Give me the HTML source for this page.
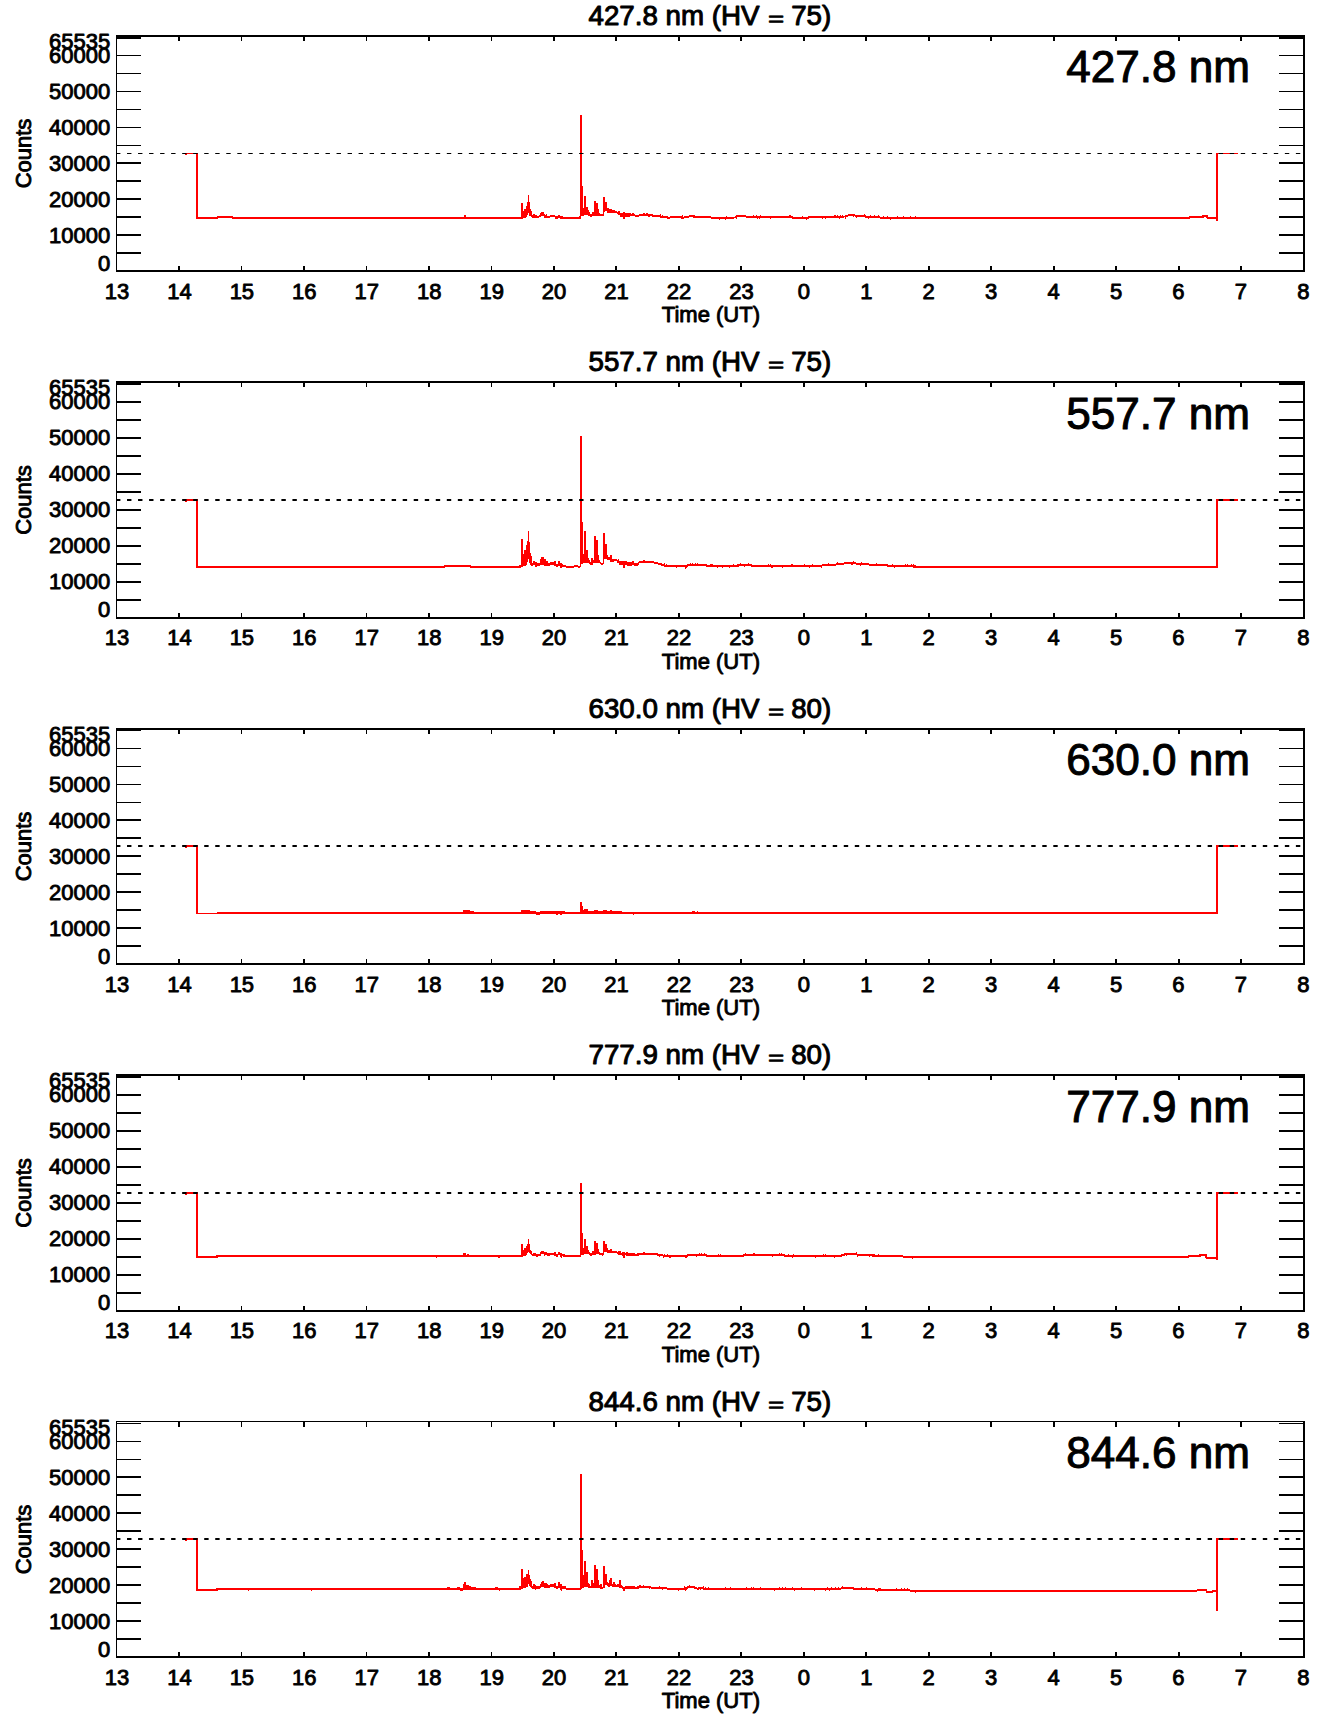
<!DOCTYPE html>
<html lang="en"><head><meta charset="utf-8"><title>Counts vs Time (UT)</title>
<style>
html,body{margin:0;padding:0;background:#fff;}
svg{display:block;}
text{font-family:"Liberation Sans",sans-serif;fill:#000;stroke:#000;stroke-linejoin:round;}
.t{font-size:22px;stroke-width:0.9px;}
.ti{font-size:27.75px;stroke-width:1px;}
.bg{font-size:44.1px;stroke-width:1px;}
.e{text-anchor:end;}.m{text-anchor:middle;}
.k{fill:#000;shape-rendering:crispEdges;}
.r{fill:#ff0000;shape-rendering:crispEdges;}
.d{stroke:#ff0000;stroke-width:2;fill:none;stroke-linejoin:miter;stroke-linecap:butt;shape-rendering:crispEdges;}
</style></head><body>
<svg width="1336" height="1731" viewBox="0 0 1336 1731">
<rect x="0" y="0" width="1336" height="1731" fill="#fff"/>
<g>
<polyline class="d" points="197,153.5 197,218 217.4,218 218,217 232,217 232.6,218 464.5,218 465,216.5 465.5,218 510,218"/>
<polyline class="d" points="648.86,214.97 659.64,216.41 668.62,217.66 677.6,216.77 682.99,217.66 691.98,215.87 695.57,216.77 708.14,216.77 711.74,217.66 720,217.66 735,217.5 736,216.5 745,216 748,217.5 790,217 795,218 808,218 810,217 845,216.5 850,215 860,216 870,217 890,218 1189,218 1190.5,216.5 1203,216.5 1203.5,215.5 1206.5,215.5 1207,217.5 1217,218 1217,221 1217,153.5"/>
<path class="r" d="M185 153h13v1h-13zM185 154h2v1h-2zM1216 153h22v1h-22zM652 215h1v2h-1zM660 214h1v2h-1zM662 215h1v2h-1zM681 217h1v2h-1zM682 215h1v2h-1zM693 216h1v2h-1zM719 218h1v2h-1zM725 218h1v2h-1zM726 216h1v2h-1zM735 216h1v2h-1zM736 217h1v2h-1zM753 215h1v2h-1zM756 215h1v2h-1zM757 217h1v2h-1zM759 217h1v2h-1zM760 215h1v2h-1zM770 217h1v2h-1zM789 215h1v2h-1zM790 215h1v2h-1zM802 216h1v2h-1zM806 218h1v2h-1zM808 216h1v2h-1zM822 217h1v2h-1zM825 217h1v2h-1zM834 215h1v2h-1zM835 215h1v2h-1zM837 215h1v2h-1zM839 217h1v2h-1zM840 215h1v2h-1zM842 215h1v2h-1zM845 217h1v2h-1zM853 215h1v2h-1zM856 216h1v2h-1zM864 214h1v2h-1zM865 215h1v2h-1zM868 217h1v2h-1zM870 215h1v2h-1zM874 215h1v2h-1zM878 215h1v2h-1zM883 216h1v2h-1zM887 216h1v2h-1zM890 218h1v2h-1zM897 216h1v2h-1zM903 216h1v2h-1zM910 216h1v2h-1zM915 216h1v2h-1zM510 217h11v2h-11zM521 203h2v16h-2zM523 211h1v7h-1zM524 209h2v9h-2zM526 206h1v11h-1zM527 202h1v13h-1zM528 195h1v18h-1zM529 202h1v14h-1zM530 209h1v7h-1zM531 211h1v6h-1zM532 215h1v3h-1zM533 214h2v4h-2zM535 215h2v3h-2zM537 216h2v2h-2zM539 215h1v2h-1zM540 213h1v4h-1zM541 212h3v4h-3zM544 214h1v4h-1zM545 215h1v3h-1zM546 214h1v4h-1zM547 216h3v2h-3zM550 215h5v2h-5zM555 216h3v3h-3zM558 215h2v3h-2zM560 216h3v3h-3zM563 217h7v2h-7zM570 217h9v2h-9zM579 216h1v3h-1zM580 214h1v5h-1zM580 115h2v100h-2zM581 186h2v30h-2zM583 208h1v8h-1zM584 196h2v19h-2zM586 207h2v8h-2zM588 210h1v6h-1zM589 212h1v4h-1zM590 214h2v3h-2zM592 212h2v4h-2zM594 201h2v15h-2zM596 203h2v13h-2zM598 209h1v7h-1zM599 213h1v3h-1zM600 214h3v2h-3zM603 197h1v19h-1zM604 197h1v15h-1zM605 202h2v9h-2zM607 208h2v5h-2zM609 209h3v4h-3zM612 210h3v3h-3zM615 211h2v2h-2zM617 212h1v2h-1zM618 211h2v4h-2zM620 213h3v4h-3zM623 212h2v7h-2zM625 213h5v4h-5zM630 213h1v3h-1zM631 214h1v2h-1zM632 213h2v3h-2zM634 214h1v2h-1zM635 215h4v2h-4zM639 214h4v2h-4zM643 213h2v3h-2zM645 214h1v2h-1zM646 213h2v3h-2zM648 214h2v3h-2z"/>
<path class="k" d="M116 35h1189v2h-1189zM116 270h1189v2h-1189zM116 35h1v237h-1zM1303 35h2v237h-2zM116 35h25v4h-25zM1279 35h26v4h-26zM116 55h25v1h-25zM1279 55h26v1h-26zM116 73h25v1h-25zM1279 73h26v1h-26zM116 91h25v1h-25zM1279 91h26v1h-26zM116 109h25v1h-25zM1279 109h26v1h-26zM116 127h25v1h-25zM1279 127h26v1h-26zM116 145h25v1h-25zM1279 145h26v1h-26zM116 162h25v2h-25zM1279 162h26v2h-26zM116 180h25v2h-25zM1279 180h26v2h-26zM116 198h25v2h-25zM1279 198h26v2h-26zM116 216h25v2h-25zM1279 216h26v2h-26zM116 234h25v2h-25zM1279 234h26v2h-26zM116 252h25v2h-25zM1279 252h26v2h-26zM178 266h2v4h-2zM178 37h2v4h-2zM241 266h1v4h-1zM241 37h1v4h-1zM303 266h2v4h-2zM303 37h2v4h-2zM366 266h1v4h-1zM366 37h1v4h-1zM428 266h2v4h-2zM428 37h2v4h-2zM491 266h1v4h-1zM491 37h1v4h-1zM553 266h2v4h-2zM553 37h2v4h-2zM615 266h2v4h-2zM615 37h2v4h-2zM678 266h2v4h-2zM678 37h2v4h-2zM740 266h2v4h-2zM740 37h2v4h-2zM803 266h2v4h-2zM803 37h2v4h-2zM865 266h2v4h-2zM865 37h2v4h-2zM928 266h2v4h-2zM928 37h2v4h-2zM990 266h2v4h-2zM990 37h2v4h-2zM1053 266h2v4h-2zM1053 37h2v4h-2zM1115 266h2v4h-2zM1115 37h2v4h-2zM1178 266h2v4h-2zM1178 37h2v4h-2zM1240 266h2v4h-2zM1240 37h2v4h-2z"/>
<path fill="#000" d="M116 153h4.4v1h-4.4zM127.03 153h4.4v1h-4.4zM138.05 153h4.4v1h-4.4zM149.08 153h4.4v1h-4.4zM160.11 153h4.4v1h-4.4zM171.13 153h4.4v1h-4.4zM182.16 153h4.4v1h-4.4zM193.19 153h4.4v1h-4.4zM204.22 153h4.4v1h-4.4zM215.24 153h4.4v1h-4.4zM226.27 153h4.4v1h-4.4zM237.3 153h4.4v1h-4.4zM248.32 153h4.4v1h-4.4zM259.35 153h4.4v1h-4.4zM270.38 153h4.4v1h-4.4zM281.4 153h4.4v1h-4.4zM292.43 153h4.4v1h-4.4zM303.46 153h4.4v1h-4.4zM314.49 153h4.4v1h-4.4zM325.51 153h4.4v1h-4.4zM336.54 153h4.4v1h-4.4zM347.57 153h4.4v1h-4.4zM358.59 153h4.4v1h-4.4zM369.62 153h4.4v1h-4.4zM380.65 153h4.4v1h-4.4zM391.67 153h4.4v1h-4.4zM402.7 153h4.4v1h-4.4zM413.73 153h4.4v1h-4.4zM424.76 153h4.4v1h-4.4zM435.78 153h4.4v1h-4.4zM446.81 153h4.4v1h-4.4zM457.84 153h4.4v1h-4.4zM468.86 153h4.4v1h-4.4zM479.89 153h4.4v1h-4.4zM490.92 153h4.4v1h-4.4zM501.94 153h4.4v1h-4.4zM512.97 153h4.4v1h-4.4zM524 153h4.4v1h-4.4zM535.03 153h4.4v1h-4.4zM546.05 153h4.4v1h-4.4zM557.08 153h4.4v1h-4.4zM568.11 153h4.4v1h-4.4zM579.13 153h4.4v1h-4.4zM590.16 153h4.4v1h-4.4zM601.19 153h4.4v1h-4.4zM612.21 153h4.4v1h-4.4zM623.24 153h4.4v1h-4.4zM634.27 153h4.4v1h-4.4zM645.3 153h4.4v1h-4.4zM656.32 153h4.4v1h-4.4zM667.35 153h4.4v1h-4.4zM678.38 153h4.4v1h-4.4zM689.4 153h4.4v1h-4.4zM700.43 153h4.4v1h-4.4zM711.46 153h4.4v1h-4.4zM722.49 153h4.4v1h-4.4zM733.51 153h4.4v1h-4.4zM744.54 153h4.4v1h-4.4zM755.57 153h4.4v1h-4.4zM766.59 153h4.4v1h-4.4zM777.62 153h4.4v1h-4.4zM788.65 153h4.4v1h-4.4zM799.67 153h4.4v1h-4.4zM810.7 153h4.4v1h-4.4zM821.73 153h4.4v1h-4.4zM832.75 153h4.4v1h-4.4zM843.78 153h4.4v1h-4.4zM854.81 153h4.4v1h-4.4zM865.84 153h4.4v1h-4.4zM876.86 153h4.4v1h-4.4zM887.89 153h4.4v1h-4.4zM898.92 153h4.4v1h-4.4zM909.94 153h4.4v1h-4.4zM920.97 153h4.4v1h-4.4zM932 153h4.4v1h-4.4zM943.02 153h4.4v1h-4.4zM954.05 153h4.4v1h-4.4zM965.08 153h4.4v1h-4.4zM976.11 153h4.4v1h-4.4zM987.13 153h4.4v1h-4.4zM998.16 153h4.4v1h-4.4zM1009.19 153h4.4v1h-4.4zM1020.21 153h4.4v1h-4.4zM1031.24 153h4.4v1h-4.4zM1042.27 153h4.4v1h-4.4zM1053.3 153h4.4v1h-4.4zM1064.32 153h4.4v1h-4.4zM1075.35 153h4.4v1h-4.4zM1086.38 153h4.4v1h-4.4zM1097.4 153h4.4v1h-4.4zM1108.43 153h4.4v1h-4.4zM1119.46 153h4.4v1h-4.4zM1130.48 153h4.4v1h-4.4zM1141.51 153h4.4v1h-4.4zM1152.54 153h4.4v1h-4.4zM1163.56 153h4.4v1h-4.4zM1174.59 153h4.4v1h-4.4zM1185.62 153h4.4v1h-4.4zM1196.65 153h4.4v1h-4.4zM1207.67 153h4.4v1h-4.4zM1218.7 153h4.4v1h-4.4zM1229.73 153h4.4v1h-4.4zM1240.75 153h4.4v1h-4.4zM1251.78 153h4.4v1h-4.4zM1262.81 153h4.4v1h-4.4zM1273.83 153h4.4v1h-4.4zM1284.86 153h4.4v1h-4.4zM1295.89 153h4.4v1h-4.4z"/>
<g transform="translate(0,0)">
<g transform="translate(0,24.6) scale(1,0.965)">
<text class="ti e" x="759.6" y="0">427.8 nm (HV</text>
<text class="ti m" transform="translate(776,0) scale(1,0.74)" y="1.3">=</text>
<text class="ti" x="791.2" y="0">75)</text>
</g>
<text class="bg" transform="translate(1066.2,82.2)">427.8 nm</text>
<text class="t e" x="110.3" y="270.8">0</text>
<text class="t e" x="110.3" y="242.7">10000</text>
<text class="t e" x="110.3" y="206.7">20000</text>
<text class="t e" x="110.3" y="170.7">30000</text>
<text class="t e" x="110.3" y="134.7">40000</text>
<text class="t e" x="110.3" y="98.7">50000</text>
<text class="t e" x="110.3" y="62.7">60000</text>
<text class="t e" x="110.3" y="48.8">65535</text>
<text class="t m" x="117" y="298.5">13</text>
<text class="t m" x="179.44" y="298.5">14</text>
<text class="t m" x="241.88" y="298.5">15</text>
<text class="t m" x="304.32" y="298.5">16</text>
<text class="t m" x="366.76" y="298.5">17</text>
<text class="t m" x="429.2" y="298.5">18</text>
<text class="t m" x="491.64" y="298.5">19</text>
<text class="t m" x="554.08" y="298.5">20</text>
<text class="t m" x="616.52" y="298.5">21</text>
<text class="t m" x="678.96" y="298.5">22</text>
<text class="t m" x="741.4" y="298.5">23</text>
<text class="t m" x="803.84" y="298.5">0</text>
<text class="t m" x="866.28" y="298.5">1</text>
<text class="t m" x="928.72" y="298.5">2</text>
<text class="t m" x="991.16" y="298.5">3</text>
<text class="t m" x="1053.6" y="298.5">4</text>
<text class="t m" x="1116.04" y="298.5">5</text>
<text class="t m" x="1178.48" y="298.5">6</text>
<text class="t m" x="1240.92" y="298.5">7</text>
<text class="t m" x="1303.36" y="298.5">8</text>
<text class="t m" x="710.9" y="322.4">Time (UT)</text>
<text class="t m" transform="translate(31,153.5) rotate(-90)">Counts</text>
</g>
</g>
<g>
<polyline class="d" points="197,500 197,567 444,567 445,566 470,566 471,567 510,567"/>
<polyline class="d" points="649,562 652,562 660,564 666,566 685,566 686,567.5 688,565 706,565 707,566 738,566 739,564.5 750,564.5 751,565.5 822,565.5 830,565 843,564 846,562.5 853,562.5 856,563.5 867,563.5 870,565 887,565 888,566 913,566 914,567 1217,567 1217,500"/>
<path class="r" d="M185 499h13v2h-13zM185 501h2v1h-2zM1216 499h22v2h-22zM664 563h1v2h-1zM666 564h1v2h-1zM676 566h1v2h-1zM686 566h1v2h-1zM690 563h1v2h-1zM692 563h1v2h-1zM695 563h1v2h-1zM697 563h1v2h-1zM710 564h1v2h-1zM711 564h1v2h-1zM712 564h1v2h-1zM717 566h1v2h-1zM722 566h1v2h-1zM729 566h1v2h-1zM733 564h1v2h-1zM737 564h1v2h-1zM740 563h1v2h-1zM744 565h1v2h-1zM748 563h1v2h-1zM751 564h1v2h-1zM768 564h1v2h-1zM770 564h1v2h-1zM771 566h1v2h-1zM772 566h1v2h-1zM782 566h1v2h-1zM791 564h1v2h-1zM792 564h1v2h-1zM804 564h1v2h-1zM809 566h1v2h-1zM812 564h1v2h-1zM821 566h1v2h-1zM828 563h1v2h-1zM837 562h1v2h-1zM851 563h1v2h-1zM852 563h1v2h-1zM853 561h1v2h-1zM860 564h1v2h-1zM861 562h1v2h-1zM876 563h1v2h-1zM892 564h1v2h-1zM894 566h1v2h-1zM905 564h1v2h-1zM907 564h1v2h-1zM911 564h1v2h-1zM913 564h1v2h-1zM914 565h1v2h-1zM915 565h1v2h-1zM510 566h9v2h-9zM519 565h2v3h-2zM521 539h2v28h-2zM523 554h1v12h-1zM524 550h2v16h-2zM526 545h1v20h-1zM527 541h1v21h-1zM528 531h1v28h-1zM529 542h1v21h-1zM530 553h1v12h-1zM531 556h1v10h-1zM532 563h1v3h-1zM533 561h2v4h-2zM535 562h2v5h-2zM537 563h3v3h-3zM540 559h1v6h-1zM541 557h3v8h-3zM544 559h2v7h-2zM546 561h2v5h-2zM548 563h2v3h-2zM550 562h4v3h-4zM554 561h2v5h-2zM556 564h2v3h-2zM558 561h2v5h-2zM560 563h2v5h-2zM562 564h1v3h-1zM563 565h3v2h-3zM566 566h4v2h-4zM570 566h4v2h-4zM574 565h4v2h-4zM578 566h2v2h-2zM580 563h1v4h-1zM580 436h2v128h-2zM581 522h2v42h-2zM583 554h1v9h-1zM584 531h2v32h-2zM586 550h2v13h-2zM588 558h1v5h-1zM589 560h1v4h-1zM590 562h1v3h-1zM591 558h2v7h-2zM593 560h1v3h-1zM594 536h2v27h-2zM596 540h2v23h-2zM598 555h1v8h-1zM599 560h1v3h-1zM600 562h1v2h-1zM601 563h2v2h-2zM603 533h1v31h-1zM604 533h1v26h-1zM605 544h2v15h-2zM607 555h1v5h-1zM608 557h2v3h-2zM610 555h2v7h-2zM612 559h2v3h-2zM614 559h3v2h-3zM617 560h1v3h-1zM618 559h1v4h-1zM619 561h2v4h-2zM621 561h2v4h-2zM623 561h2v7h-2zM625 561h2v4h-2zM627 562h3v4h-3zM630 562h2v4h-2zM632 561h2v4h-2zM634 563h2v3h-2zM636 563h2v3h-2zM638 562h1v3h-1zM639 561h4v2h-4zM643 560h2v3h-2zM645 561h5v2h-5z"/>
<path class="k" d="M116 381h1189v2h-1189zM116 617h1189v2h-1189zM116 381h1v238h-1zM1303 381h2v238h-2zM116 381h25v4h-25zM1279 381h26v4h-26zM116 401h25v2h-25zM1279 401h26v2h-26zM116 419h25v2h-25zM1279 419h26v2h-26zM116 437h25v2h-25zM1279 437h26v2h-26zM116 455h25v2h-25zM1279 455h26v2h-26zM116 473h25v2h-25zM1279 473h26v2h-26zM116 491h25v2h-25zM1279 491h26v2h-26zM116 509h25v2h-25zM1279 509h26v2h-26zM116 527h25v2h-25zM1279 527h26v2h-26zM116 545h25v2h-25zM1279 545h26v2h-26zM116 563h25v2h-25zM1279 563h26v2h-26zM116 581h25v2h-25zM1279 581h26v2h-26zM116 599h25v2h-25zM1279 599h26v2h-26zM178 613h2v4h-2zM178 383h2v4h-2zM241 613h1v4h-1zM241 383h1v4h-1zM303 613h2v4h-2zM303 383h2v4h-2zM366 613h1v4h-1zM366 383h1v4h-1zM428 613h2v4h-2zM428 383h2v4h-2zM491 613h1v4h-1zM491 383h1v4h-1zM553 613h2v4h-2zM553 383h2v4h-2zM615 613h2v4h-2zM615 383h2v4h-2zM678 613h2v4h-2zM678 383h2v4h-2zM740 613h2v4h-2zM740 383h2v4h-2zM803 613h2v4h-2zM803 383h2v4h-2zM865 613h2v4h-2zM865 383h2v4h-2zM928 613h2v4h-2zM928 383h2v4h-2zM990 613h2v4h-2zM990 383h2v4h-2zM1053 613h2v4h-2zM1053 383h2v4h-2zM1115 613h2v4h-2zM1115 383h2v4h-2zM1178 613h2v4h-2zM1178 383h2v4h-2zM1240 613h2v4h-2zM1240 383h2v4h-2z"/>
<path fill="#000" d="M116 499h4.4v2h-4.4zM127.03 499h4.4v2h-4.4zM138.05 499h4.4v2h-4.4zM149.08 499h4.4v2h-4.4zM160.11 499h4.4v2h-4.4zM171.13 499h4.4v2h-4.4zM182.16 499h4.4v2h-4.4zM193.19 499h4.4v2h-4.4zM204.22 499h4.4v2h-4.4zM215.24 499h4.4v2h-4.4zM226.27 499h4.4v2h-4.4zM237.3 499h4.4v2h-4.4zM248.32 499h4.4v2h-4.4zM259.35 499h4.4v2h-4.4zM270.38 499h4.4v2h-4.4zM281.4 499h4.4v2h-4.4zM292.43 499h4.4v2h-4.4zM303.46 499h4.4v2h-4.4zM314.49 499h4.4v2h-4.4zM325.51 499h4.4v2h-4.4zM336.54 499h4.4v2h-4.4zM347.57 499h4.4v2h-4.4zM358.59 499h4.4v2h-4.4zM369.62 499h4.4v2h-4.4zM380.65 499h4.4v2h-4.4zM391.67 499h4.4v2h-4.4zM402.7 499h4.4v2h-4.4zM413.73 499h4.4v2h-4.4zM424.76 499h4.4v2h-4.4zM435.78 499h4.4v2h-4.4zM446.81 499h4.4v2h-4.4zM457.84 499h4.4v2h-4.4zM468.86 499h4.4v2h-4.4zM479.89 499h4.4v2h-4.4zM490.92 499h4.4v2h-4.4zM501.94 499h4.4v2h-4.4zM512.97 499h4.4v2h-4.4zM524 499h4.4v2h-4.4zM535.03 499h4.4v2h-4.4zM546.05 499h4.4v2h-4.4zM557.08 499h4.4v2h-4.4zM568.11 499h4.4v2h-4.4zM579.13 499h4.4v2h-4.4zM590.16 499h4.4v2h-4.4zM601.19 499h4.4v2h-4.4zM612.21 499h4.4v2h-4.4zM623.24 499h4.4v2h-4.4zM634.27 499h4.4v2h-4.4zM645.3 499h4.4v2h-4.4zM656.32 499h4.4v2h-4.4zM667.35 499h4.4v2h-4.4zM678.38 499h4.4v2h-4.4zM689.4 499h4.4v2h-4.4zM700.43 499h4.4v2h-4.4zM711.46 499h4.4v2h-4.4zM722.49 499h4.4v2h-4.4zM733.51 499h4.4v2h-4.4zM744.54 499h4.4v2h-4.4zM755.57 499h4.4v2h-4.4zM766.59 499h4.4v2h-4.4zM777.62 499h4.4v2h-4.4zM788.65 499h4.4v2h-4.4zM799.67 499h4.4v2h-4.4zM810.7 499h4.4v2h-4.4zM821.73 499h4.4v2h-4.4zM832.75 499h4.4v2h-4.4zM843.78 499h4.4v2h-4.4zM854.81 499h4.4v2h-4.4zM865.84 499h4.4v2h-4.4zM876.86 499h4.4v2h-4.4zM887.89 499h4.4v2h-4.4zM898.92 499h4.4v2h-4.4zM909.94 499h4.4v2h-4.4zM920.97 499h4.4v2h-4.4zM932 499h4.4v2h-4.4zM943.02 499h4.4v2h-4.4zM954.05 499h4.4v2h-4.4zM965.08 499h4.4v2h-4.4zM976.11 499h4.4v2h-4.4zM987.13 499h4.4v2h-4.4zM998.16 499h4.4v2h-4.4zM1009.19 499h4.4v2h-4.4zM1020.21 499h4.4v2h-4.4zM1031.24 499h4.4v2h-4.4zM1042.27 499h4.4v2h-4.4zM1053.3 499h4.4v2h-4.4zM1064.32 499h4.4v2h-4.4zM1075.35 499h4.4v2h-4.4zM1086.38 499h4.4v2h-4.4zM1097.4 499h4.4v2h-4.4zM1108.43 499h4.4v2h-4.4zM1119.46 499h4.4v2h-4.4zM1130.48 499h4.4v2h-4.4zM1141.51 499h4.4v2h-4.4zM1152.54 499h4.4v2h-4.4zM1163.56 499h4.4v2h-4.4zM1174.59 499h4.4v2h-4.4zM1185.62 499h4.4v2h-4.4zM1196.65 499h4.4v2h-4.4zM1207.67 499h4.4v2h-4.4zM1218.7 499h4.4v2h-4.4zM1229.73 499h4.4v2h-4.4zM1240.75 499h4.4v2h-4.4zM1251.78 499h4.4v2h-4.4zM1262.81 499h4.4v2h-4.4zM1273.83 499h4.4v2h-4.4zM1284.86 499h4.4v2h-4.4zM1295.89 499h4.4v2h-4.4z"/>
<g transform="translate(0,346.5)">
<g transform="translate(0,24.6) scale(1,0.965)">
<text class="ti e" x="759.6" y="0">557.7 nm (HV</text>
<text class="ti m" transform="translate(776,0) scale(1,0.74)" y="1.3">=</text>
<text class="ti" x="791.2" y="0">75)</text>
</g>
<text class="bg" transform="translate(1066.2,82.2)">557.7 nm</text>
<text class="t e" x="110.3" y="270.8">0</text>
<text class="t e" x="110.3" y="242.7">10000</text>
<text class="t e" x="110.3" y="206.7">20000</text>
<text class="t e" x="110.3" y="170.7">30000</text>
<text class="t e" x="110.3" y="134.7">40000</text>
<text class="t e" x="110.3" y="98.7">50000</text>
<text class="t e" x="110.3" y="62.7">60000</text>
<text class="t e" x="110.3" y="48.8">65535</text>
<text class="t m" x="117" y="298.5">13</text>
<text class="t m" x="179.44" y="298.5">14</text>
<text class="t m" x="241.88" y="298.5">15</text>
<text class="t m" x="304.32" y="298.5">16</text>
<text class="t m" x="366.76" y="298.5">17</text>
<text class="t m" x="429.2" y="298.5">18</text>
<text class="t m" x="491.64" y="298.5">19</text>
<text class="t m" x="554.08" y="298.5">20</text>
<text class="t m" x="616.52" y="298.5">21</text>
<text class="t m" x="678.96" y="298.5">22</text>
<text class="t m" x="741.4" y="298.5">23</text>
<text class="t m" x="803.84" y="298.5">0</text>
<text class="t m" x="866.28" y="298.5">1</text>
<text class="t m" x="928.72" y="298.5">2</text>
<text class="t m" x="991.16" y="298.5">3</text>
<text class="t m" x="1053.6" y="298.5">4</text>
<text class="t m" x="1116.04" y="298.5">5</text>
<text class="t m" x="1178.48" y="298.5">6</text>
<text class="t m" x="1240.92" y="298.5">7</text>
<text class="t m" x="1303.36" y="298.5">8</text>
<text class="t m" x="710.9" y="322.4">Time (UT)</text>
<text class="t m" transform="translate(31,153.5) rotate(-90)">Counts</text>
</g>
</g>
<g>
<polyline class="d" points="217,913 1217,913 1217,846"/>
<path class="r" d="M185 845h13v2h-13zM185 847h2v1h-2zM1216 845h22v2h-22zM196 845h2v69h-2zM197 913h20v1h-20zM463 910h7v2h-7zM470 911h4v1h-4zM521 910h9v2h-9zM530 911h6v1h-6zM536 914h4v1h-4zM540 911h25v1h-25zM556 914h2v1h-2zM560 914h2v1h-2zM580 902h2v10h-2zM582 906h1v6h-1zM583 910h1v2h-1zM584 909h4v3h-4zM588 911h6v1h-6zM594 910h4v2h-4zM598 911h5v1h-5zM603 910h4v2h-4zM607 911h3v1h-3zM610 910h2v2h-2zM612 911h10v1h-10zM692 911h3v1h-3zM697 911h1v1h-1zM633 914h1v1h-1z"/>
<path class="k" d="M116 728h1189v2h-1189zM116 963h1189v2h-1189zM116 728h1v237h-1zM1303 728h2v237h-2zM116 728h25v3h-25zM1279 728h26v3h-26zM116 748h25v1h-25zM1279 748h26v1h-26zM116 766h25v1h-25zM1279 766h26v1h-26zM116 784h25v1h-25zM1279 784h26v1h-26zM116 802h25v1h-25zM1279 802h26v1h-26zM116 819h25v2h-25zM1279 819h26v2h-26zM116 837h25v2h-25zM1279 837h26v2h-26zM116 855h25v2h-25zM1279 855h26v2h-26zM116 873h25v2h-25zM1279 873h26v2h-26zM116 891h25v2h-25zM1279 891h26v2h-26zM116 909h25v2h-25zM1279 909h26v2h-26zM116 927h25v2h-25zM1279 927h26v2h-26zM116 945h25v2h-25zM1279 945h26v2h-26zM178 959h2v4h-2zM178 730h2v4h-2zM241 959h1v4h-1zM241 730h1v4h-1zM303 959h2v4h-2zM303 730h2v4h-2zM366 959h1v4h-1zM366 730h1v4h-1zM428 959h2v4h-2zM428 730h2v4h-2zM491 959h1v4h-1zM491 730h1v4h-1zM553 959h2v4h-2zM553 730h2v4h-2zM615 959h2v4h-2zM615 730h2v4h-2zM678 959h2v4h-2zM678 730h2v4h-2zM740 959h2v4h-2zM740 730h2v4h-2zM803 959h2v4h-2zM803 730h2v4h-2zM865 959h2v4h-2zM865 730h2v4h-2zM928 959h2v4h-2zM928 730h2v4h-2zM990 959h2v4h-2zM990 730h2v4h-2zM1053 959h2v4h-2zM1053 730h2v4h-2zM1115 959h2v4h-2zM1115 730h2v4h-2zM1178 959h2v4h-2zM1178 730h2v4h-2zM1240 959h2v4h-2zM1240 730h2v4h-2z"/>
<path fill="#000" d="M116 845h4.4v2h-4.4zM127.03 845h4.4v2h-4.4zM138.05 845h4.4v2h-4.4zM149.08 845h4.4v2h-4.4zM160.11 845h4.4v2h-4.4zM171.13 845h4.4v2h-4.4zM182.16 845h4.4v2h-4.4zM193.19 845h4.4v2h-4.4zM204.22 845h4.4v2h-4.4zM215.24 845h4.4v2h-4.4zM226.27 845h4.4v2h-4.4zM237.3 845h4.4v2h-4.4zM248.32 845h4.4v2h-4.4zM259.35 845h4.4v2h-4.4zM270.38 845h4.4v2h-4.4zM281.4 845h4.4v2h-4.4zM292.43 845h4.4v2h-4.4zM303.46 845h4.4v2h-4.4zM314.49 845h4.4v2h-4.4zM325.51 845h4.4v2h-4.4zM336.54 845h4.4v2h-4.4zM347.57 845h4.4v2h-4.4zM358.59 845h4.4v2h-4.4zM369.62 845h4.4v2h-4.4zM380.65 845h4.4v2h-4.4zM391.67 845h4.4v2h-4.4zM402.7 845h4.4v2h-4.4zM413.73 845h4.4v2h-4.4zM424.76 845h4.4v2h-4.4zM435.78 845h4.4v2h-4.4zM446.81 845h4.4v2h-4.4zM457.84 845h4.4v2h-4.4zM468.86 845h4.4v2h-4.4zM479.89 845h4.4v2h-4.4zM490.92 845h4.4v2h-4.4zM501.94 845h4.4v2h-4.4zM512.97 845h4.4v2h-4.4zM524 845h4.4v2h-4.4zM535.03 845h4.4v2h-4.4zM546.05 845h4.4v2h-4.4zM557.08 845h4.4v2h-4.4zM568.11 845h4.4v2h-4.4zM579.13 845h4.4v2h-4.4zM590.16 845h4.4v2h-4.4zM601.19 845h4.4v2h-4.4zM612.21 845h4.4v2h-4.4zM623.24 845h4.4v2h-4.4zM634.27 845h4.4v2h-4.4zM645.3 845h4.4v2h-4.4zM656.32 845h4.4v2h-4.4zM667.35 845h4.4v2h-4.4zM678.38 845h4.4v2h-4.4zM689.4 845h4.4v2h-4.4zM700.43 845h4.4v2h-4.4zM711.46 845h4.4v2h-4.4zM722.49 845h4.4v2h-4.4zM733.51 845h4.4v2h-4.4zM744.54 845h4.4v2h-4.4zM755.57 845h4.4v2h-4.4zM766.59 845h4.4v2h-4.4zM777.62 845h4.4v2h-4.4zM788.65 845h4.4v2h-4.4zM799.67 845h4.4v2h-4.4zM810.7 845h4.4v2h-4.4zM821.73 845h4.4v2h-4.4zM832.75 845h4.4v2h-4.4zM843.78 845h4.4v2h-4.4zM854.81 845h4.4v2h-4.4zM865.84 845h4.4v2h-4.4zM876.86 845h4.4v2h-4.4zM887.89 845h4.4v2h-4.4zM898.92 845h4.4v2h-4.4zM909.94 845h4.4v2h-4.4zM920.97 845h4.4v2h-4.4zM932 845h4.4v2h-4.4zM943.02 845h4.4v2h-4.4zM954.05 845h4.4v2h-4.4zM965.08 845h4.4v2h-4.4zM976.11 845h4.4v2h-4.4zM987.13 845h4.4v2h-4.4zM998.16 845h4.4v2h-4.4zM1009.19 845h4.4v2h-4.4zM1020.21 845h4.4v2h-4.4zM1031.24 845h4.4v2h-4.4zM1042.27 845h4.4v2h-4.4zM1053.3 845h4.4v2h-4.4zM1064.32 845h4.4v2h-4.4zM1075.35 845h4.4v2h-4.4zM1086.38 845h4.4v2h-4.4zM1097.4 845h4.4v2h-4.4zM1108.43 845h4.4v2h-4.4zM1119.46 845h4.4v2h-4.4zM1130.48 845h4.4v2h-4.4zM1141.51 845h4.4v2h-4.4zM1152.54 845h4.4v2h-4.4zM1163.56 845h4.4v2h-4.4zM1174.59 845h4.4v2h-4.4zM1185.62 845h4.4v2h-4.4zM1196.65 845h4.4v2h-4.4zM1207.67 845h4.4v2h-4.4zM1218.7 845h4.4v2h-4.4zM1229.73 845h4.4v2h-4.4zM1240.75 845h4.4v2h-4.4zM1251.78 845h4.4v2h-4.4zM1262.81 845h4.4v2h-4.4zM1273.83 845h4.4v2h-4.4zM1284.86 845h4.4v2h-4.4zM1295.89 845h4.4v2h-4.4z"/>
<g transform="translate(0,693)">
<g transform="translate(0,24.6) scale(1,0.965)">
<text class="ti e" x="759.6" y="0">630.0 nm (HV</text>
<text class="ti m" transform="translate(776,0) scale(1,0.74)" y="1.3">=</text>
<text class="ti" x="791.2" y="0">80)</text>
</g>
<text class="bg" transform="translate(1066.2,82.2)">630.0 nm</text>
<text class="t e" x="110.3" y="270.8">0</text>
<text class="t e" x="110.3" y="242.7">10000</text>
<text class="t e" x="110.3" y="206.7">20000</text>
<text class="t e" x="110.3" y="170.7">30000</text>
<text class="t e" x="110.3" y="134.7">40000</text>
<text class="t e" x="110.3" y="98.7">50000</text>
<text class="t e" x="110.3" y="62.7">60000</text>
<text class="t e" x="110.3" y="48.8">65535</text>
<text class="t m" x="117" y="298.5">13</text>
<text class="t m" x="179.44" y="298.5">14</text>
<text class="t m" x="241.88" y="298.5">15</text>
<text class="t m" x="304.32" y="298.5">16</text>
<text class="t m" x="366.76" y="298.5">17</text>
<text class="t m" x="429.2" y="298.5">18</text>
<text class="t m" x="491.64" y="298.5">19</text>
<text class="t m" x="554.08" y="298.5">20</text>
<text class="t m" x="616.52" y="298.5">21</text>
<text class="t m" x="678.96" y="298.5">22</text>
<text class="t m" x="741.4" y="298.5">23</text>
<text class="t m" x="803.84" y="298.5">0</text>
<text class="t m" x="866.28" y="298.5">1</text>
<text class="t m" x="928.72" y="298.5">2</text>
<text class="t m" x="991.16" y="298.5">3</text>
<text class="t m" x="1053.6" y="298.5">4</text>
<text class="t m" x="1116.04" y="298.5">5</text>
<text class="t m" x="1178.48" y="298.5">6</text>
<text class="t m" x="1240.92" y="298.5">7</text>
<text class="t m" x="1303.36" y="298.5">8</text>
<text class="t m" x="710.9" y="322.4">Time (UT)</text>
<text class="t m" transform="translate(31,153.5) rotate(-90)">Counts</text>
</g>
</g>
<g>
<polyline class="d" points="197,1193 197,1257 217.4,1257 217.4,1256 510,1256"/>
<polyline class="d" points="649,1254 654,1254 660,1255 666,1256 685,1256 686,1257 688,1255 706,1255 707,1256 743,1256 744,1255 784,1255 785,1256 841,1256 842,1255 848,1254 856,1254 858,1255 872,1255 873,1256 902,1256 903,1256.5 913,1257 1188,1257 1189,1256 1200,1256 1200,1255 1206,1255 1206.5,1258 1217,1258 1217,1260 1217,1193"/>
<path class="r" d="M185 1192h13v2h-13zM185 1194h2v1h-2zM1216 1192h22v2h-22zM657 1253h1v2h-1zM659 1255h1v2h-1zM663 1256h1v2h-1zM664 1254h1v2h-1zM667 1254h1v2h-1zM669 1256h1v2h-1zM670 1256h1v2h-1zM696 1255h1v2h-1zM699 1253h1v2h-1zM701 1253h1v2h-1zM704 1253h1v2h-1zM718 1254h1v2h-1zM720 1254h1v2h-1zM745 1253h1v2h-1zM753 1253h1v2h-1zM754 1253h1v2h-1zM772 1255h1v2h-1zM779 1253h1v2h-1zM781 1253h1v2h-1zM788 1254h1v2h-1zM792 1256h1v2h-1zM793 1254h1v2h-1zM815 1256h1v2h-1zM823 1254h1v2h-1zM825 1254h1v2h-1zM834 1256h1v2h-1zM844 1253h1v2h-1zM846 1254h1v2h-1zM856 1252h1v2h-1zM857 1255h1v2h-1zM869 1255h1v2h-1zM873 1254h1v2h-1zM874 1254h1v2h-1zM878 1254h1v2h-1zM912 1257h1v2h-1zM510 1255h11v2h-11zM521 1244h2v13h-2zM523 1250h1v6h-1zM524 1248h2v8h-2zM526 1246h1v9h-1zM527 1244h1v9h-1zM528 1239h1v13h-1zM529 1244h1v9h-1zM530 1250h1v4h-1zM531 1251h1v4h-1zM532 1254h1v2h-1zM533 1253h3v3h-3zM536 1254h2v3h-2zM538 1254h2v2h-2zM540 1252h1v4h-1zM541 1251h3v3h-3zM544 1252h1v4h-1zM545 1252h2v3h-2zM547 1253h3v3h-3zM550 1253h4v2h-4zM554 1252h2v4h-2zM556 1254h2v3h-2zM558 1252h2v3h-2zM560 1253h1v4h-1zM561 1253h1v5h-1zM562 1254h1v2h-1zM563 1254h2v3h-2zM565 1255h5v2h-5zM570 1255h10v2h-10zM580 1254h1v3h-1zM580 1183h2v72h-2zM581 1233h2v22h-2zM583 1248h1v7h-1zM584 1239h2v15h-2zM586 1246h2v8h-2zM588 1250h1v4h-1zM589 1252h1v3h-1zM590 1253h2v3h-2zM592 1251h2v4h-2zM594 1241h2v14h-2zM596 1243h2v11h-2zM598 1249h1v5h-1zM599 1252h1v3h-1zM600 1253h2v2h-2zM602 1253h1v3h-1zM603 1241h1v14h-1zM604 1241h1v11h-1zM605 1244h2v8h-2zM607 1248h1v5h-1zM608 1250h2v3h-2zM610 1249h2v4h-2zM612 1251h5v2h-5zM617 1252h1v2h-1zM618 1251h3v4h-3zM621 1253h1v2h-1zM622 1252h1v4h-1zM623 1252h2v6h-2zM625 1253h1v2h-1zM626 1252h2v4h-2zM628 1253h7v3h-7zM635 1254h2v2h-2zM637 1253h2v3h-2zM639 1253h4v2h-4zM643 1252h2v3h-2zM645 1253h5v2h-5zM463 1253h3v2h-3zM467 1254h2v1h-2zM436 1257h1v1h-1zM498 1257h2v1h-2z"/>
<path class="k" d="M116 1074h1189v2h-1189zM116 1310h1189v2h-1189zM116 1074h1v238h-1zM1303 1074h2v238h-2zM116 1074h25v4h-25zM1279 1074h26v4h-26zM116 1094h25v2h-25zM1279 1094h26v2h-26zM116 1112h25v2h-25zM1279 1112h26v2h-26zM116 1130h25v2h-25zM1279 1130h26v2h-26zM116 1148h25v2h-25zM1279 1148h26v2h-26zM116 1166h25v2h-25zM1279 1166h26v2h-26zM116 1184h25v2h-25zM1279 1184h26v2h-26zM116 1202h25v2h-25zM1279 1202h26v2h-26zM116 1220h25v2h-25zM1279 1220h26v2h-26zM116 1238h25v2h-25zM1279 1238h26v2h-26zM116 1256h25v2h-25zM1279 1256h26v2h-26zM116 1274h25v2h-25zM1279 1274h26v2h-26zM116 1292h25v2h-25zM1279 1292h26v2h-26zM178 1306h2v4h-2zM178 1076h2v4h-2zM241 1306h1v4h-1zM241 1076h1v4h-1zM303 1306h2v4h-2zM303 1076h2v4h-2zM366 1306h1v4h-1zM366 1076h1v4h-1zM428 1306h2v4h-2zM428 1076h2v4h-2zM491 1306h1v4h-1zM491 1076h1v4h-1zM553 1306h2v4h-2zM553 1076h2v4h-2zM615 1306h2v4h-2zM615 1076h2v4h-2zM678 1306h2v4h-2zM678 1076h2v4h-2zM740 1306h2v4h-2zM740 1076h2v4h-2zM803 1306h2v4h-2zM803 1076h2v4h-2zM865 1306h2v4h-2zM865 1076h2v4h-2zM928 1306h2v4h-2zM928 1076h2v4h-2zM990 1306h2v4h-2zM990 1076h2v4h-2zM1053 1306h2v4h-2zM1053 1076h2v4h-2zM1115 1306h2v4h-2zM1115 1076h2v4h-2zM1178 1306h2v4h-2zM1178 1076h2v4h-2zM1240 1306h2v4h-2zM1240 1076h2v4h-2z"/>
<path fill="#000" d="M116 1192h4.4v2h-4.4zM127.03 1192h4.4v2h-4.4zM138.05 1192h4.4v2h-4.4zM149.08 1192h4.4v2h-4.4zM160.11 1192h4.4v2h-4.4zM171.13 1192h4.4v2h-4.4zM182.16 1192h4.4v2h-4.4zM193.19 1192h4.4v2h-4.4zM204.22 1192h4.4v2h-4.4zM215.24 1192h4.4v2h-4.4zM226.27 1192h4.4v2h-4.4zM237.3 1192h4.4v2h-4.4zM248.32 1192h4.4v2h-4.4zM259.35 1192h4.4v2h-4.4zM270.38 1192h4.4v2h-4.4zM281.4 1192h4.4v2h-4.4zM292.43 1192h4.4v2h-4.4zM303.46 1192h4.4v2h-4.4zM314.49 1192h4.4v2h-4.4zM325.51 1192h4.4v2h-4.4zM336.54 1192h4.4v2h-4.4zM347.57 1192h4.4v2h-4.4zM358.59 1192h4.4v2h-4.4zM369.62 1192h4.4v2h-4.4zM380.65 1192h4.4v2h-4.4zM391.67 1192h4.4v2h-4.4zM402.7 1192h4.4v2h-4.4zM413.73 1192h4.4v2h-4.4zM424.76 1192h4.4v2h-4.4zM435.78 1192h4.4v2h-4.4zM446.81 1192h4.4v2h-4.4zM457.84 1192h4.4v2h-4.4zM468.86 1192h4.4v2h-4.4zM479.89 1192h4.4v2h-4.4zM490.92 1192h4.4v2h-4.4zM501.94 1192h4.4v2h-4.4zM512.97 1192h4.4v2h-4.4zM524 1192h4.4v2h-4.4zM535.03 1192h4.4v2h-4.4zM546.05 1192h4.4v2h-4.4zM557.08 1192h4.4v2h-4.4zM568.11 1192h4.4v2h-4.4zM579.13 1192h4.4v2h-4.4zM590.16 1192h4.4v2h-4.4zM601.19 1192h4.4v2h-4.4zM612.21 1192h4.4v2h-4.4zM623.24 1192h4.4v2h-4.4zM634.27 1192h4.4v2h-4.4zM645.3 1192h4.4v2h-4.4zM656.32 1192h4.4v2h-4.4zM667.35 1192h4.4v2h-4.4zM678.38 1192h4.4v2h-4.4zM689.4 1192h4.4v2h-4.4zM700.43 1192h4.4v2h-4.4zM711.46 1192h4.4v2h-4.4zM722.49 1192h4.4v2h-4.4zM733.51 1192h4.4v2h-4.4zM744.54 1192h4.4v2h-4.4zM755.57 1192h4.4v2h-4.4zM766.59 1192h4.4v2h-4.4zM777.62 1192h4.4v2h-4.4zM788.65 1192h4.4v2h-4.4zM799.67 1192h4.4v2h-4.4zM810.7 1192h4.4v2h-4.4zM821.73 1192h4.4v2h-4.4zM832.75 1192h4.4v2h-4.4zM843.78 1192h4.4v2h-4.4zM854.81 1192h4.4v2h-4.4zM865.84 1192h4.4v2h-4.4zM876.86 1192h4.4v2h-4.4zM887.89 1192h4.4v2h-4.4zM898.92 1192h4.4v2h-4.4zM909.94 1192h4.4v2h-4.4zM920.97 1192h4.4v2h-4.4zM932 1192h4.4v2h-4.4zM943.02 1192h4.4v2h-4.4zM954.05 1192h4.4v2h-4.4zM965.08 1192h4.4v2h-4.4zM976.11 1192h4.4v2h-4.4zM987.13 1192h4.4v2h-4.4zM998.16 1192h4.4v2h-4.4zM1009.19 1192h4.4v2h-4.4zM1020.21 1192h4.4v2h-4.4zM1031.24 1192h4.4v2h-4.4zM1042.27 1192h4.4v2h-4.4zM1053.3 1192h4.4v2h-4.4zM1064.32 1192h4.4v2h-4.4zM1075.35 1192h4.4v2h-4.4zM1086.38 1192h4.4v2h-4.4zM1097.4 1192h4.4v2h-4.4zM1108.43 1192h4.4v2h-4.4zM1119.46 1192h4.4v2h-4.4zM1130.48 1192h4.4v2h-4.4zM1141.51 1192h4.4v2h-4.4zM1152.54 1192h4.4v2h-4.4zM1163.56 1192h4.4v2h-4.4zM1174.59 1192h4.4v2h-4.4zM1185.62 1192h4.4v2h-4.4zM1196.65 1192h4.4v2h-4.4zM1207.67 1192h4.4v2h-4.4zM1218.7 1192h4.4v2h-4.4zM1229.73 1192h4.4v2h-4.4zM1240.75 1192h4.4v2h-4.4zM1251.78 1192h4.4v2h-4.4zM1262.81 1192h4.4v2h-4.4zM1273.83 1192h4.4v2h-4.4zM1284.86 1192h4.4v2h-4.4zM1295.89 1192h4.4v2h-4.4z"/>
<g transform="translate(0,1039.5)">
<g transform="translate(0,24.6) scale(1,0.965)">
<text class="ti e" x="759.6" y="0">777.9 nm (HV</text>
<text class="ti m" transform="translate(776,0) scale(1,0.74)" y="1.3">=</text>
<text class="ti" x="791.2" y="0">80)</text>
</g>
<text class="bg" transform="translate(1066.2,82.2)">777.9 nm</text>
<text class="t e" x="110.3" y="270.8">0</text>
<text class="t e" x="110.3" y="242.7">10000</text>
<text class="t e" x="110.3" y="206.7">20000</text>
<text class="t e" x="110.3" y="170.7">30000</text>
<text class="t e" x="110.3" y="134.7">40000</text>
<text class="t e" x="110.3" y="98.7">50000</text>
<text class="t e" x="110.3" y="62.7">60000</text>
<text class="t e" x="110.3" y="48.8">65535</text>
<text class="t m" x="117" y="298.5">13</text>
<text class="t m" x="179.44" y="298.5">14</text>
<text class="t m" x="241.88" y="298.5">15</text>
<text class="t m" x="304.32" y="298.5">16</text>
<text class="t m" x="366.76" y="298.5">17</text>
<text class="t m" x="429.2" y="298.5">18</text>
<text class="t m" x="491.64" y="298.5">19</text>
<text class="t m" x="554.08" y="298.5">20</text>
<text class="t m" x="616.52" y="298.5">21</text>
<text class="t m" x="678.96" y="298.5">22</text>
<text class="t m" x="741.4" y="298.5">23</text>
<text class="t m" x="803.84" y="298.5">0</text>
<text class="t m" x="866.28" y="298.5">1</text>
<text class="t m" x="928.72" y="298.5">2</text>
<text class="t m" x="991.16" y="298.5">3</text>
<text class="t m" x="1053.6" y="298.5">4</text>
<text class="t m" x="1116.04" y="298.5">5</text>
<text class="t m" x="1178.48" y="298.5">6</text>
<text class="t m" x="1240.92" y="298.5">7</text>
<text class="t m" x="1303.36" y="298.5">8</text>
<text class="t m" x="710.9" y="322.4">Time (UT)</text>
<text class="t m" transform="translate(31,153.5) rotate(-90)">Counts</text>
</g>
</g>
<g>
<polyline class="d" points="197,1539 197,1590 217.4,1590 217.4,1589 510,1589"/>
<polyline class="d" points="648.86,1586.65 652.46,1587.9 665.93,1587.9 667.72,1588.8 683.89,1588.8 684.79,1587.54 685.87,1589.7 688.38,1586.65 692.87,1586.65 695.57,1587.9 697.72,1588.8 702.04,1587.9 703.65,1588.8 720,1588.8 740,1589.5 760,1589 800,1589.5 835,1589 848,1588 860,1589 890,1590 930,1591 1196,1591 1198,1590 1206,1590 1207,1592.2 1212,1592.2 1213,1591 1217,1591 1217,1610.6 1217,1539"/>
<path class="r" d="M185 1538h13v2h-13zM185 1540h2v1h-2zM1216 1538h22v2h-22zM659 1586h1v2h-1zM662 1588h1v2h-1zM678 1589h1v2h-1zM689 1585h1v2h-1zM698 1587h1v2h-1zM700 1588h1v2h-1zM703 1586h1v2h-1zM705 1587h1v2h-1zM708 1587h1v2h-1zM725 1587h1v2h-1zM730 1587h1v2h-1zM740 1588h1v2h-1zM746 1587h1v2h-1zM751 1587h1v2h-1zM753 1587h1v2h-1zM760 1587h1v2h-1zM774 1589h1v2h-1zM779 1587h1v2h-1zM782 1587h1v2h-1zM785 1587h1v2h-1zM792 1587h1v2h-1zM794 1589h1v2h-1zM800 1588h1v2h-1zM801 1587h1v2h-1zM814 1589h1v2h-1zM825 1589h1v2h-1zM827 1587h1v2h-1zM829 1589h1v2h-1zM831 1587h1v2h-1zM835 1587h1v2h-1zM838 1587h1v2h-1zM842 1586h1v2h-1zM853 1588h1v2h-1zM861 1587h1v2h-1zM866 1587h1v2h-1zM877 1590h1v2h-1zM878 1588h1v2h-1zM879 1588h1v2h-1zM880 1588h1v2h-1zM896 1588h1v2h-1zM901 1588h1v2h-1zM904 1588h1v2h-1zM907 1588h1v2h-1zM915 1591h1v2h-1zM510 1588h9v2h-9zM519 1586h2v4h-2zM521 1569h2v20h-2zM523 1578h1v10h-1zM524 1577h2v11h-2zM526 1574h2v13h-2zM528 1570h1v14h-1zM529 1575h1v11h-1zM530 1579h1v8h-1zM531 1581h1v7h-1zM532 1586h1v3h-1zM533 1584h2v5h-2zM535 1585h1v5h-1zM536 1586h4v3h-4zM540 1584h1v4h-1zM541 1582h1v5h-1zM542 1581h2v6h-2zM544 1583h3v5h-3zM547 1584h1v4h-1zM548 1585h2v3h-2zM550 1584h4v3h-4zM554 1583h2v5h-2zM556 1586h2v3h-2zM558 1582h2v6h-2zM560 1584h1v6h-1zM561 1584h1v7h-1zM562 1586h4v3h-4zM566 1588h4v2h-4zM570 1588h10v2h-10zM580 1588h1v2h-1zM580 1474h2v115h-2zM581 1550h2v37h-2zM582 1575h2v13h-2zM584 1561h2v26h-2zM586 1572h2v15h-2zM588 1583h1v5h-1zM589 1584h1v4h-1zM590 1586h1v2h-1zM591 1580h2v8h-2zM593 1583h1v5h-1zM594 1565h2v23h-2zM596 1569h2v19h-2zM598 1580h1v8h-1zM599 1585h1v3h-1zM600 1584h2v5h-2zM602 1587h1v2h-1zM603 1566h2v22h-2zM605 1574h2v11h-2zM607 1582h1v4h-1zM608 1583h1v4h-1zM609 1580h1v7h-1zM610 1578h2v8h-2zM612 1584h1v3h-1zM613 1582h2v5h-2zM615 1584h1v3h-1zM616 1585h1v2h-1zM617 1584h2v3h-2zM619 1580h2v8h-2zM621 1585h1v3h-1zM622 1586h1v3h-1zM623 1587h2v4h-2zM625 1586h10v3h-10zM635 1587h2v2h-2zM637 1586h2v3h-2zM639 1585h2v3h-2zM641 1586h2v2h-2zM643 1585h1v3h-1zM644 1586h5v2h-5zM649 1586h1v3h-1zM248 1590h1v1h-1zM311 1590h1v1h-1zM447 1587h3v1h-3zM457 1587h3v1h-3zM460 1590h3v1h-3zM463 1584h1v5h-1zM464 1582h2v7h-2zM466 1585h3v4h-3zM469 1586h2v3h-2zM471 1587h2v2h-2zM473 1587h3v1h-3zM495 1587h3v1h-3zM499 1590h1v1h-1z"/>
<path class="k" d="M116 1421h1189v1h-1189zM116 1656h1189v2h-1189zM116 1421h1v237h-1zM1303 1421h2v237h-2zM116 1423h25v1h-25zM1279 1423h26v1h-26zM116 1441h25v1h-25zM1279 1441h26v1h-26zM116 1459h25v1h-25zM1279 1459h26v1h-26zM116 1476h25v2h-25zM1279 1476h26v2h-26zM116 1494h25v2h-25zM1279 1494h26v2h-26zM116 1512h25v2h-25zM1279 1512h26v2h-26zM116 1530h25v2h-25zM1279 1530h26v2h-26zM116 1548h25v2h-25zM1279 1548h26v2h-26zM116 1566h25v2h-25zM1279 1566h26v2h-26zM116 1584h25v2h-25zM1279 1584h26v2h-26zM116 1602h25v2h-25zM1279 1602h26v2h-26zM116 1620h25v2h-25zM1279 1620h26v2h-26zM116 1638h25v2h-25zM1279 1638h26v2h-26zM178 1652h2v4h-2zM178 1422h2v5h-2zM241 1652h1v4h-1zM241 1422h1v5h-1zM303 1652h2v4h-2zM303 1422h2v5h-2zM366 1652h1v4h-1zM366 1422h1v5h-1zM428 1652h2v4h-2zM428 1422h2v5h-2zM491 1652h1v4h-1zM491 1422h1v5h-1zM553 1652h2v4h-2zM553 1422h2v5h-2zM615 1652h2v4h-2zM615 1422h2v5h-2zM678 1652h2v4h-2zM678 1422h2v5h-2zM740 1652h2v4h-2zM740 1422h2v5h-2zM803 1652h2v4h-2zM803 1422h2v5h-2zM865 1652h2v4h-2zM865 1422h2v5h-2zM928 1652h2v4h-2zM928 1422h2v5h-2zM990 1652h2v4h-2zM990 1422h2v5h-2zM1053 1652h2v4h-2zM1053 1422h2v5h-2zM1115 1652h2v4h-2zM1115 1422h2v5h-2zM1178 1652h2v4h-2zM1178 1422h2v5h-2zM1240 1652h2v4h-2zM1240 1422h2v5h-2z"/>
<path fill="#000" d="M116 1538h4.4v2h-4.4zM127.03 1538h4.4v2h-4.4zM138.05 1538h4.4v2h-4.4zM149.08 1538h4.4v2h-4.4zM160.11 1538h4.4v2h-4.4zM171.13 1538h4.4v2h-4.4zM182.16 1538h4.4v2h-4.4zM193.19 1538h4.4v2h-4.4zM204.22 1538h4.4v2h-4.4zM215.24 1538h4.4v2h-4.4zM226.27 1538h4.4v2h-4.4zM237.3 1538h4.4v2h-4.4zM248.32 1538h4.4v2h-4.4zM259.35 1538h4.4v2h-4.4zM270.38 1538h4.4v2h-4.4zM281.4 1538h4.4v2h-4.4zM292.43 1538h4.4v2h-4.4zM303.46 1538h4.4v2h-4.4zM314.49 1538h4.4v2h-4.4zM325.51 1538h4.4v2h-4.4zM336.54 1538h4.4v2h-4.4zM347.57 1538h4.4v2h-4.4zM358.59 1538h4.4v2h-4.4zM369.62 1538h4.4v2h-4.4zM380.65 1538h4.4v2h-4.4zM391.67 1538h4.4v2h-4.4zM402.7 1538h4.4v2h-4.4zM413.73 1538h4.4v2h-4.4zM424.76 1538h4.4v2h-4.4zM435.78 1538h4.4v2h-4.4zM446.81 1538h4.4v2h-4.4zM457.84 1538h4.4v2h-4.4zM468.86 1538h4.4v2h-4.4zM479.89 1538h4.4v2h-4.4zM490.92 1538h4.4v2h-4.4zM501.94 1538h4.4v2h-4.4zM512.97 1538h4.4v2h-4.4zM524 1538h4.4v2h-4.4zM535.03 1538h4.4v2h-4.4zM546.05 1538h4.4v2h-4.4zM557.08 1538h4.4v2h-4.4zM568.11 1538h4.4v2h-4.4zM579.13 1538h4.4v2h-4.4zM590.16 1538h4.4v2h-4.4zM601.19 1538h4.4v2h-4.4zM612.21 1538h4.4v2h-4.4zM623.24 1538h4.4v2h-4.4zM634.27 1538h4.4v2h-4.4zM645.3 1538h4.4v2h-4.4zM656.32 1538h4.4v2h-4.4zM667.35 1538h4.4v2h-4.4zM678.38 1538h4.4v2h-4.4zM689.4 1538h4.4v2h-4.4zM700.43 1538h4.4v2h-4.4zM711.46 1538h4.4v2h-4.4zM722.49 1538h4.4v2h-4.4zM733.51 1538h4.4v2h-4.4zM744.54 1538h4.4v2h-4.4zM755.57 1538h4.4v2h-4.4zM766.59 1538h4.4v2h-4.4zM777.62 1538h4.4v2h-4.4zM788.65 1538h4.4v2h-4.4zM799.67 1538h4.4v2h-4.4zM810.7 1538h4.4v2h-4.4zM821.73 1538h4.4v2h-4.4zM832.75 1538h4.4v2h-4.4zM843.78 1538h4.4v2h-4.4zM854.81 1538h4.4v2h-4.4zM865.84 1538h4.4v2h-4.4zM876.86 1538h4.4v2h-4.4zM887.89 1538h4.4v2h-4.4zM898.92 1538h4.4v2h-4.4zM909.94 1538h4.4v2h-4.4zM920.97 1538h4.4v2h-4.4zM932 1538h4.4v2h-4.4zM943.02 1538h4.4v2h-4.4zM954.05 1538h4.4v2h-4.4zM965.08 1538h4.4v2h-4.4zM976.11 1538h4.4v2h-4.4zM987.13 1538h4.4v2h-4.4zM998.16 1538h4.4v2h-4.4zM1009.19 1538h4.4v2h-4.4zM1020.21 1538h4.4v2h-4.4zM1031.24 1538h4.4v2h-4.4zM1042.27 1538h4.4v2h-4.4zM1053.3 1538h4.4v2h-4.4zM1064.32 1538h4.4v2h-4.4zM1075.35 1538h4.4v2h-4.4zM1086.38 1538h4.4v2h-4.4zM1097.4 1538h4.4v2h-4.4zM1108.43 1538h4.4v2h-4.4zM1119.46 1538h4.4v2h-4.4zM1130.48 1538h4.4v2h-4.4zM1141.51 1538h4.4v2h-4.4zM1152.54 1538h4.4v2h-4.4zM1163.56 1538h4.4v2h-4.4zM1174.59 1538h4.4v2h-4.4zM1185.62 1538h4.4v2h-4.4zM1196.65 1538h4.4v2h-4.4zM1207.67 1538h4.4v2h-4.4zM1218.7 1538h4.4v2h-4.4zM1229.73 1538h4.4v2h-4.4zM1240.75 1538h4.4v2h-4.4zM1251.78 1538h4.4v2h-4.4zM1262.81 1538h4.4v2h-4.4zM1273.83 1538h4.4v2h-4.4zM1284.86 1538h4.4v2h-4.4zM1295.89 1538h4.4v2h-4.4z"/>
<g transform="translate(0,1386)">
<g transform="translate(0,24.6) scale(1,0.965)">
<text class="ti e" x="759.6" y="0">844.6 nm (HV</text>
<text class="ti m" transform="translate(776,0) scale(1,0.74)" y="1.3">=</text>
<text class="ti" x="791.2" y="0">75)</text>
</g>
<text class="bg" transform="translate(1066.2,82.2)">844.6 nm</text>
<text class="t e" x="110.3" y="270.8">0</text>
<text class="t e" x="110.3" y="242.7">10000</text>
<text class="t e" x="110.3" y="206.7">20000</text>
<text class="t e" x="110.3" y="170.7">30000</text>
<text class="t e" x="110.3" y="134.7">40000</text>
<text class="t e" x="110.3" y="98.7">50000</text>
<text class="t e" x="110.3" y="62.7">60000</text>
<text class="t e" x="110.3" y="48.8">65535</text>
<text class="t m" x="117" y="298.5">13</text>
<text class="t m" x="179.44" y="298.5">14</text>
<text class="t m" x="241.88" y="298.5">15</text>
<text class="t m" x="304.32" y="298.5">16</text>
<text class="t m" x="366.76" y="298.5">17</text>
<text class="t m" x="429.2" y="298.5">18</text>
<text class="t m" x="491.64" y="298.5">19</text>
<text class="t m" x="554.08" y="298.5">20</text>
<text class="t m" x="616.52" y="298.5">21</text>
<text class="t m" x="678.96" y="298.5">22</text>
<text class="t m" x="741.4" y="298.5">23</text>
<text class="t m" x="803.84" y="298.5">0</text>
<text class="t m" x="866.28" y="298.5">1</text>
<text class="t m" x="928.72" y="298.5">2</text>
<text class="t m" x="991.16" y="298.5">3</text>
<text class="t m" x="1053.6" y="298.5">4</text>
<text class="t m" x="1116.04" y="298.5">5</text>
<text class="t m" x="1178.48" y="298.5">6</text>
<text class="t m" x="1240.92" y="298.5">7</text>
<text class="t m" x="1303.36" y="298.5">8</text>
<text class="t m" x="710.9" y="322.4">Time (UT)</text>
<text class="t m" transform="translate(31,153.5) rotate(-90)">Counts</text>
</g>
</g>
</svg></body></html>
